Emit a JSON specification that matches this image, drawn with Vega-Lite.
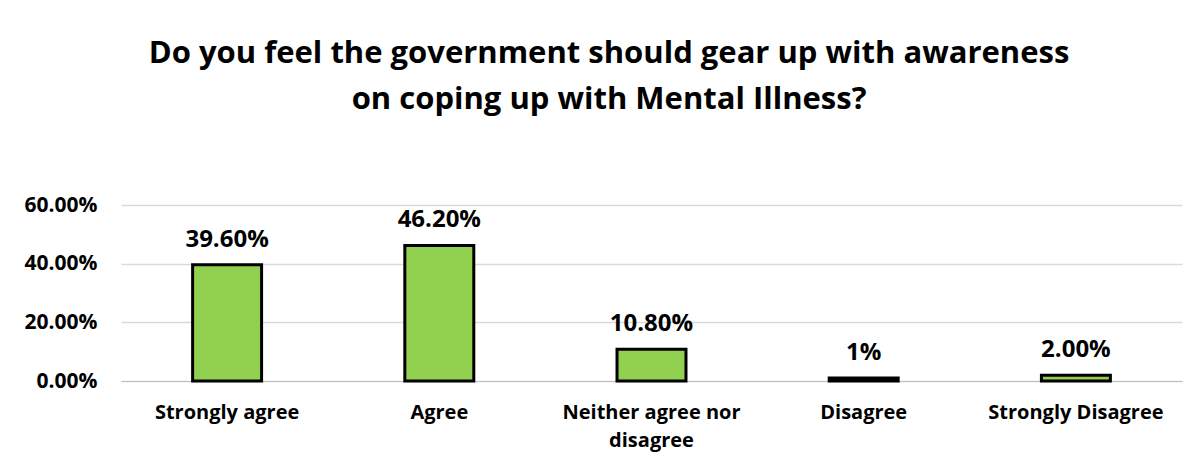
{
  "$schema": "https://vega.github.io/schema/vega-lite/v6.json",
  "autosize": {"type": "none"},
  "width": 1061,
  "height": 176,
  "padding": {"left": 121, "top": 205, "right": 20, "bottom": 88},
  "background": "white",
  "title": {
    "text": ["Do you feel the government should gear up with awareness", "on coping up with Mental Illness?"],
    "font": "Open Sans",
    "fontSize": 31,
    "fontWeight": "bold",
    "color": "black",
    "lineHeight": 46,
    "anchor": "middle",
    "frame": "bounds",
    "dx": 6,
    "offset": 78
  },
  "data": {
    "values": [
      {"response": "Strongly agree", "share": 0.396, "label": "39.60%"},
      {"response": "Agree", "share": 0.462, "label": "46.20%"},
      {"response": "Neither agree nor disagree", "share": 0.108, "label": "10.80%"},
      {"response": "Disagree", "share": 0.01, "label": "1%"},
      {"response": "Strongly Disagree", "share": 0.02, "label": "2.00%"}
    ]
  },
  "encoding": {
    "x": {
      "field": "response",
      "type": "nominal",
      "sort": null,
      "scale": {"paddingInner": 0.675, "paddingOuter": 0.3375},
      "axis": {
        "title": null,
        "labelAngle": 0,
        "ticks": false,
        "domain": true,
        "domainColor": "#bfbfbf",
        "domainWidth": 1,
        "labelPadding": 21,
        "labelFont": "Open Sans",
        "labelFontSize": 20,
        "labelFontWeight": "bold",
        "labelColor": "black",
        "labelLineHeight": 28,
        "labelExpr": "datum.label == 'Neither agree nor disagree' ? ['Neither agree nor', 'disagree'] : datum.label"
      }
    },
    "y": {
      "field": "share",
      "type": "quantitative",
      "scale": {"domain": [0, 0.6]},
      "axis": {
        "title": null,
        "values": [0, 0.2, 0.4, 0.6],
        "format": ".2%",
        "ticks": false,
        "domain": false,
        "grid": true,
        "gridColor": "#d9d9d9",
        "gridWidth": 1.3,
        "labelPadding": 24,
        "labelFont": "Open Sans",
        "labelFontSize": 21,
        "labelFontWeight": "bold",
        "labelColor": "black"
      }
    }
  },
  "layer": [
    {
      "mark": {"type": "bar", "fill": "#92d050", "stroke": "black", "strokeWidth": 3}
    },
    {
      "mark": {"type": "text", "baseline": "alphabetic", "dy": -18, "font": "Open Sans", "fontSize": 24, "fontWeight": "bold", "color": "black"},
      "encoding": {"text": {"field": "label"}}
    }
  ],
  "config": {"view": {"stroke": null}}
}
